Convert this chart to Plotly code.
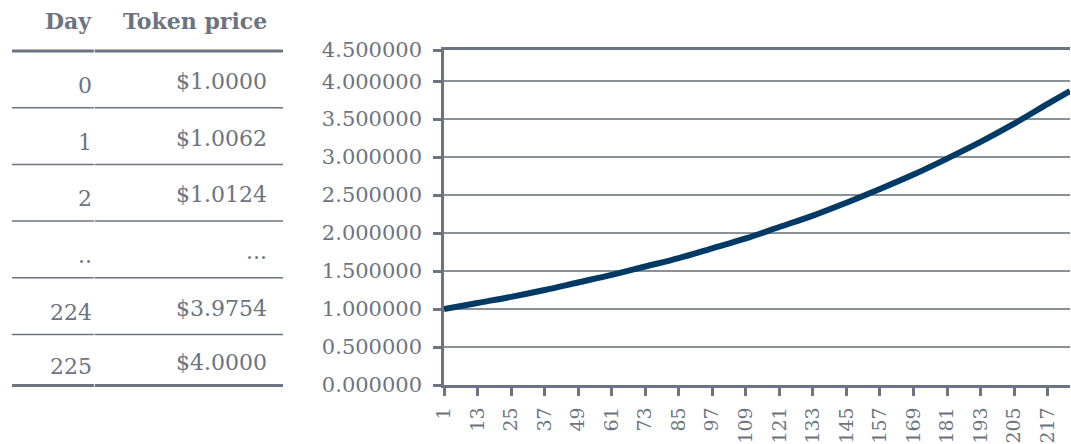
import plotly.graph_objects as go

# table data
table_header = ["Day", "Token price"]
table_days = ["0", "1", "2", "..", "224", "225"]
table_prices = ["$1.0000", "$1.0062", "$1.0124", "...", "$3.9754", "$4.0000"]

# chart data (every 12 days)
chart_days = [1, 13, 25, 37, 49, 61, 73, 85, 97, 109, 121, 133, 145, 157,
              169, 181, 193, 205, 217, 225]
chart_prices = [1.00, 1.08, 1.16, 1.25, 1.35, 1.45, 1.56, 1.67, 1.80, 1.93,
                2.08, 2.23, 2.40, 2.58, 2.77, 2.98, 3.20, 3.44, 3.70, 3.87]

x_tick_vals = [1, 13, 25, 37, 49, 61, 73, 85, 97, 109, 121, 133, 145, 157,
               169, 181, 193, 205, 217]
y_tick_labels = ["0.000000", "0.500000", "1.000000", "1.500000", "2.000000",
                 "2.500000", "3.000000", "3.500000", "4.000000", "4.500000"]
y_tick_vals = [0, 0.5, 1.0, 1.5, 2.0, 2.5, 3.0, 3.5, 4.0, 4.41]

FONT = "DejaVu Serif"
TXT = "#6b7480"
LINE = "#6b7480"

fig = go.Figure()

fig.add_trace(go.Scatter(
    x=chart_days, y=chart_prices, mode="lines",
    line=dict(color="#023a66", width=6, shape="spline"),
    hoverinfo="skip", xaxis="x", yaxis="y"))

# invisible anchor trace for the table axes
fig.add_trace(go.Scatter(x=[0, 1], y=[0, 6], mode="markers",
                         marker=dict(opacity=0), hoverinfo="skip",
                         xaxis="x2", yaxis="y2"))

# table rows
bounds = [0.5, 1.5, 2.5, 3.5, 4.5, 5.5, 6.4]
day_x, gap_x, price_x = 0.302, 0.306, 0.948

annotations = []
annotations.append(dict(text="<b>" + table_header[0] + "</b>", x=day_x, y=0,
                        yshift=2))
annotations.append(dict(text="<b>" + table_header[1] + "</b>", x=price_x, y=0,
                        yshift=2))
for i in range(len(table_days)):
    yc = (bounds[i] + bounds[i + 1]) / 2
    annotations.append(dict(text=table_days[i], x=day_x, y=yc, yshift=-6))
    annotations.append(dict(text=table_prices[i], x=price_x, y=yc, yshift=-2))
for a in annotations:
    a.update(xref="x2", yref="y2", xanchor="right", yanchor="middle",
             showarrow=False, font=dict(family=FONT, size=22, color=TXT))

shapes = []
for i, b in enumerate(bounds):
    w = 3 if i in (0, len(bounds) - 1) else 1.5
    for x0, x1 in [(0, gap_x - 0.004), (gap_x - 0.001, 1)]:
        shapes.append(dict(type="line", xref="x2", yref="y2", x0=x0, x1=x1,
                           y0=b, y1=b, line=dict(color=LINE, width=w)))

fig.update_layout(
    width=1071, height=444,
    margin=dict(l=0, r=0, t=0, b=0),
    paper_bgcolor="white", plot_bgcolor="white",
    showlegend=False,
    font=dict(family=FONT, color=TXT),
    annotations=annotations, shapes=shapes,
    xaxis=dict(domain=[444 / 1071, 1070 / 1071], range=[1, 225],
               tickvals=x_tick_vals, tickangle=-90, ticks="outside",
               ticklen=8, tickwidth=2.5, tickcolor=LINE,
               showline=True, linecolor=LINE, linewidth=2.5, mirror=True,
               showgrid=False, zeroline=False, automargin=False,
               ticklabelstandoff=4,
               tickfont=dict(family=FONT, size=19, color=TXT)),
    yaxis=dict(domain=[(444 - 385) / 444, (444 - 50) / 444], range=[0, 4.41],
               tickvals=y_tick_vals, ticktext=y_tick_labels,
               ticks="outside", ticklen=8, tickwidth=2.5, tickcolor=LINE,
               showline=True, linecolor=LINE, linewidth=2.5,
               showgrid=True, gridcolor="#8b9199", gridwidth=1.5,
               zeroline=False, automargin=False, ticklabelstandoff=7,
               tickfont=dict(family=FONT, size=21, color=TXT)),
    xaxis2=dict(domain=[12 / 1071, 283 / 1071], range=[0, 1], visible=False,
                anchor="y2"),
    yaxis2=dict(domain=[0, 1], range=[7.431, -0.3995], visible=False,
                anchor="x2"),
)

# drop the default page margin so the figure sits at the window's corner
fig.write_html("out.html",
               config={"displayModeBar": False},
               post_script="document.body.style.margin='0';"
                           "document.body.style.overflow='hidden';")
